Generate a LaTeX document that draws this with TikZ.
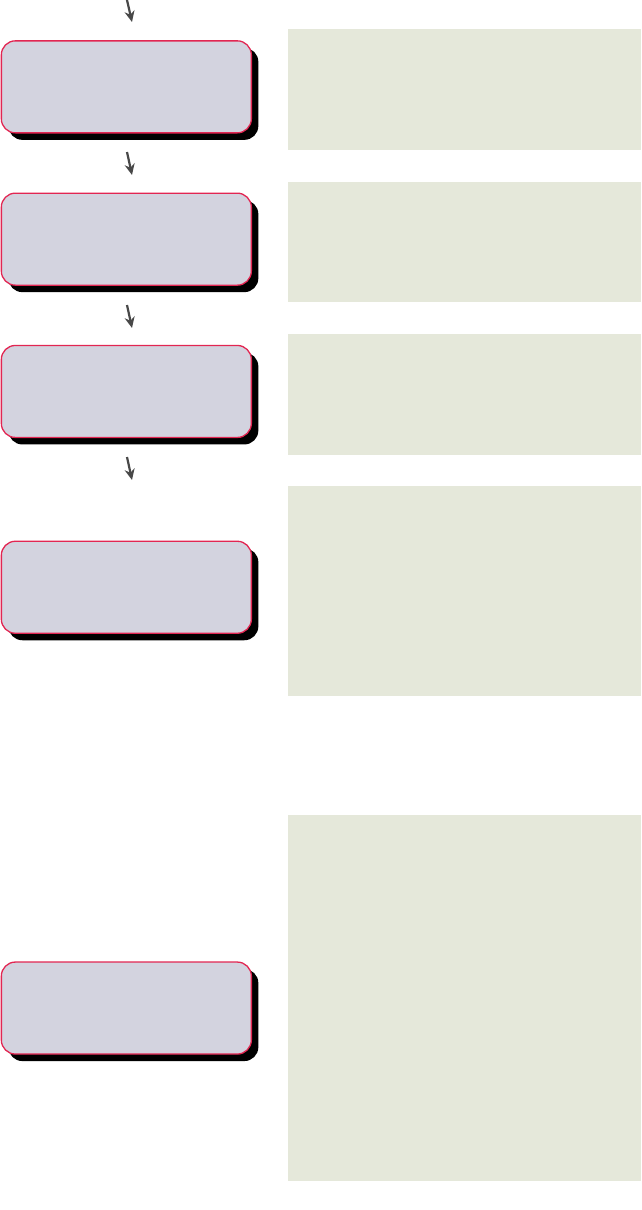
\documentclass[tikz,border=0pt]{standalone}
\usepackage{xcolor}
\usepackage{tikz}
\usetikzlibrary{arrows.meta, positioning, shadows}

\definecolor{stageedge}{RGB}{226,38,82}
\definecolor{stagefill}{RGB}{211,211,223}
\definecolor{notefill}{RGB}{229,232,218}
\definecolor{arrowgray}{RGB}{72,72,72}

\begin{document}
\begin{tikzpicture}[
    x=1pt, y=-1pt,
    node distance=59pt and 37pt,
    stage/.style={rectangle, draw=stageedge, fill=stagefill, line width=1.3pt, rounded corners=14pt, minimum width=250pt, minimum height=92pt, inner sep=0pt, drop shadow={shadow xshift=7pt, shadow yshift=-7pt, fill=black, opacity=1}},
    note/.style={rectangle, fill=notefill, minimum width=353pt, inner sep=0pt, anchor=north west},
    arrow/.style={-{Stealth[length=11pt, width=10pt]}, line width=2.2pt, color=arrowgray},
]
\useasboundingbox (0,0) rectangle (641,1210);

\node[stage, anchor=north west] (stage1) at (0.7,40.2) {};
\node[stage, below=of stage1] (stage2) {};
\node[stage, below=of stage2] (stage3) {};
\node[stage, below=102.5pt of stage3] (stage4) {};
\node[stage, below=327.5pt of stage4] (stage5) {};

\node[note, minimum height=121pt] (note1) at (288,29) {};
\node[note, minimum height=120pt] (note2) at (288,182) {};
\node[note, minimum height=121pt] (note3) at (288,334) {};
\node[note, minimum height=210pt] (note4) at (288,486) {};
\node[note, minimum height=366pt] (note5) at (288,815) {};

\coordinate (in1) at (127,0);
\coordinate (out1) at (132,22);
\coordinate (in2) at (127,152);
\coordinate (out2) at (132,175);
\coordinate (in3) at (127,305);
\coordinate (out3) at (132,328);
\coordinate (in4) at (127,457);
\coordinate (out4) at (132,480);

\draw[arrow] (in1) -- (out1);
\draw[arrow] (in2) -- (out2);
\draw[arrow] (in3) -- (out3);
\draw[arrow] (in4) -- (out4);

\end{tikzpicture}
\end{document}
